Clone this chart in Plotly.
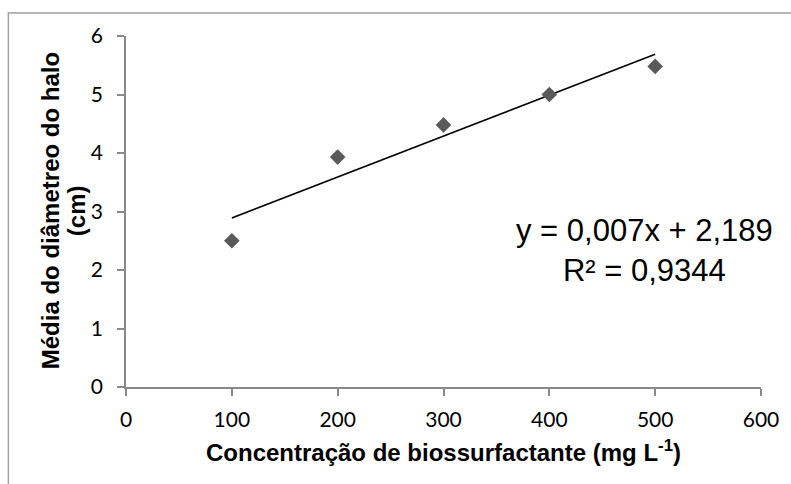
import plotly.graph_objects as go

# Data
concentracao = [100, 200, 300, 400, 500]
diametro = [2.5, 3.93, 4.48, 5.0, 5.48]
slope = 0.007
intercept = 2.189
r2 = 0.9344
x_ticks = [0, 100, 200, 300, 400, 500, 600]
y_ticks = [0, 1, 2, 3, 4, 5, 6]

trend_x = [min(concentracao), max(concentracao)]
trend_y = [slope * v + intercept for v in trend_x]

W, H = 791, 484
L, R, T, B = 126, 28, 36, 97
pw, ph = W - L - R, H - T - B

def px_x(p):
    return (p - L) / pw

def px_y(p):
    return (H - B - p) / ph

fig = go.Figure()
fig.add_trace(go.Scatter(x=trend_x, y=trend_y, mode="lines",
                         line=dict(color="black", width=1.5),
                         showlegend=False, hoverinfo="skip"))
fig.add_trace(go.Scatter(x=concentracao, y=diametro, mode="markers",
                         marker=dict(symbol="diamond", size=12, color="#5a5a5a",
                                     line=dict(width=0)),
                         showlegend=False))

axis_common = dict(showgrid=False, zeroline=False, showline=True,
                   linecolor="#898989", linewidth=1.5,
                   ticks="outside", ticklen=7, tickcolor="#898989", tickwidth=1.5,
                   tickfont=dict(family="Lato", size=21, color="black"))

fig.update_xaxes(range=[0, 600], tickvals=x_ticks, ticklabelstandoff=6,
                 title=dict(text="Concentração de biossurfactante (mg L<sup>-1</sup>)",
                            font=dict(family="Liberation Sans", size=24, color="black",
                                      weight="bold"),
                            standoff=14),
                 **axis_common)
fig.update_yaxes(range=[0, 6], tickvals=y_ticks, ticklabelstandoff=10, **axis_common)

annotations = [
    dict(text="Média do diâmetreo do halo", x=px_x(50), y=px_y(211),
         xref="paper", yref="paper", textangle=-90, showarrow=False,
         xanchor="center", yanchor="middle",
         font=dict(family="Liberation Sans", size=24, color="black", weight="bold")),
    dict(text="(cm)", x=px_x(76), y=px_y(211),
         xref="paper", yref="paper", textangle=-90, showarrow=False,
         xanchor="center", yanchor="middle",
         font=dict(family="Liberation Sans", size=24, color="black", weight="bold")),
    dict(text=f"y = {slope:.3f}x + {intercept:.3f}".replace(".", ",") +
              f"<br>R² = {r2:.4f}".replace(".", ","),
         x=px_x(646), y=px_y(250), xref="paper", yref="paper",
         showarrow=False, xanchor="center", yanchor="middle", align="center",
         font=dict(family="Liberation Sans", size=31, color="black")),
]

fig.update_layout(
    width=W, height=H,
    margin=dict(l=L, r=R, t=T, b=B, pad=0),
    paper_bgcolor="white", plot_bgcolor="white",
    annotations=annotations,
    shapes=[dict(type="rect", xref="paper", yref="paper",
                 x0=px_x(8), x1=px_x(W + 20), y0=px_y(H + 20), y1=px_y(13),
                 line=dict(color="#a0a0a0", width=1.5), layer="below")],
)

fig.write_html("out.html")
